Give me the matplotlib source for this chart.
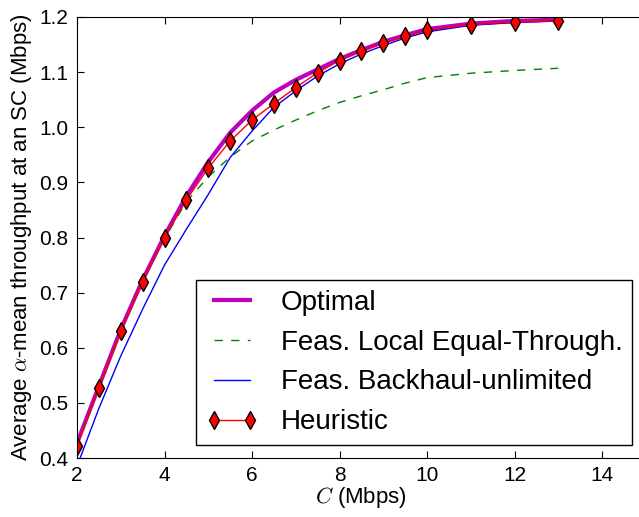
import matplotlib
matplotlib.use("Agg")
import matplotlib.pyplot as plt

plt.rcParams['font.family'] = ['Liberation Sans', 'DejaVu Sans']
plt.rcParams['mathtext.fontset'] = 'cm'

capacity = [2, 2.5, 3, 3.5, 4, 4.5, 5, 5.5, 6, 6.5, 7, 7.5, 8, 8.5, 9, 9.5, 10, 11, 12, 13]

optimal = [0.427, 0.530, 0.633, 0.723, 0.803, 0.875, 0.937, 0.990, 1.030, 1.063,
           1.086, 1.105, 1.124, 1.140, 1.155, 1.167, 1.178, 1.188, 1.193, 1.195]
local_equal = [0.425, 0.528, 0.630, 0.720, 0.798, 0.865, 0.910, 0.946, 0.975, 0.995,
               1.013, 1.030, 1.045, 1.057, 1.068, 1.080, 1.090, 1.098, 1.103, 1.107]
backhaul_unlim = [0.385, 0.490, 0.585, 0.670, 0.750, 0.815, 0.878, 0.945, 0.993, 1.036,
                  1.066, 1.093, 1.115, 1.133, 1.148, 1.162, 1.173, 1.185, 1.190, 1.193]
heuristic = [0.422, 0.527, 0.630, 0.720, 0.800, 0.868, 0.926, 0.975, 1.013, 1.043,
             1.072, 1.099, 1.121, 1.138, 1.152, 1.165, 1.176, 1.186, 1.191, 1.193]

fig = plt.figure(figsize=(6.39, 5.17), dpi=100)
ax = fig.add_axes([77 / 639, 59 / 517, 568.75 / 639, 441 / 517])

ax.plot(capacity, optimal, color='#bf00bf', lw=3, label='Optimal')
ax.plot(capacity, local_equal, color='green', lw=1, dashes=(6, 6),
        label='Feas. Local Equal-Through.')
ax.plot(capacity, backhaul_unlim, color='blue', lw=1, label='Feas. Backhaul-unlimited')
ax.plot(capacity, heuristic, color='red', lw=1, marker='d', ms=9,
        mfc='red', mec='black', mew=1, label='Heuristic')

ax.set_xlim(2, 15)
ax.set_ylim(0.4, 1.2)
ax.set_xticks([2, 4, 6, 8, 10, 12, 14])
ax.set_yticks([0.4, 0.5, 0.6, 0.7, 0.8, 0.9, 1.0, 1.1, 1.2])
ax.tick_params(direction='in', top=True, right=True, length=5, labelsize=15, pad=6)

ax.set_xlabel('$C$ (Mbps)', fontsize=16, labelpad=0)
ax.set_ylabel(r'Average $\alpha$-mean throughput at an SC (Mbps)', fontsize=16, labelpad=4)

leg = ax.legend(loc='lower right', bbox_to_anchor=(632 / 639, 72 / 517),
                bbox_transform=fig.transFigure, borderaxespad=0, fontsize=20,
                numpoints=2, handlelength=1.9, handletextpad=0.8, labelspacing=0.5,
                borderpad=0.35, fancybox=False, edgecolor='black', framealpha=1)
leg.get_frame().set_linewidth(1)

fig.savefig('out.png', dpi=100)
